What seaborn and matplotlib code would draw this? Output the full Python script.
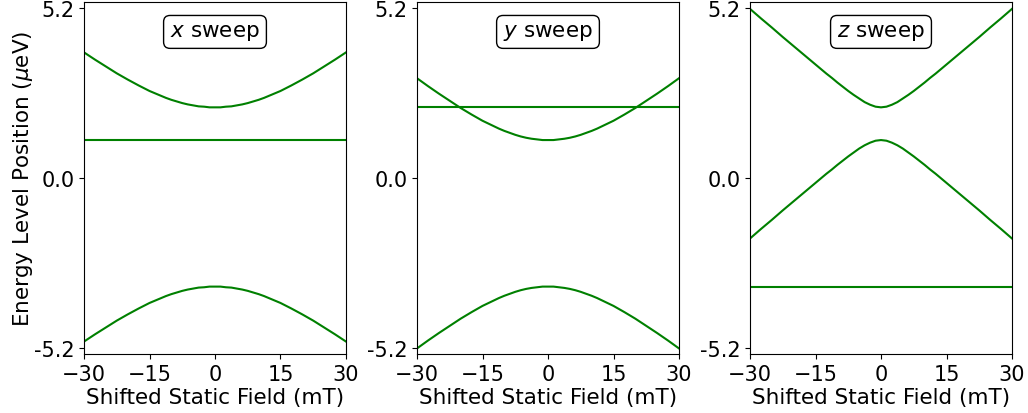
import matplotlib
matplotlib.use("Agg")
import matplotlib.pyplot as plt
import seaborn as sns
import pandas as pd

# Shifted static field (mT)
field = [-30, -27.5, -25, -22.5, -20, -17.5, -15, -12.5, -11.25, -10, -8.75, -7.5,
         -6.25, -5, -3.75, -2.5, -1.25, 0, 1.25, 2.5, 3.75, 5, 6.25, 7.5, 8.75, 10,
         11.25, 12.5, 15, 17.5, 20, 22.5, 25, 27.5, 30]

# x sweep levels (ueV)
x_upper = [3.84, 3.62, 3.41, 3.20, 3.01, 2.83, 2.66, 2.52, 2.45, 2.39, 2.34, 2.29,
           2.25, 2.22, 2.19, 2.18, 2.16, 2.16, 2.16, 2.18, 2.19, 2.22, 2.25, 2.29,
           2.34, 2.39, 2.45, 2.52, 2.66, 2.83, 3.01, 3.20, 3.41, 3.62, 3.84]
x_flat = [1.16] * 35
x_lower = [-5.00, -4.78, -4.57, -4.36, -4.17, -3.99, -3.82, -3.68, -3.61, -3.55, -3.50, -3.45,
           -3.41, -3.38, -3.35, -3.34, -3.32, -3.32, -3.32, -3.34, -3.35, -3.38, -3.41, -3.45,
           -3.50, -3.55, -3.61, -3.68, -3.82, -3.99, -4.17, -4.36, -4.57, -4.78, -5.00]

# y sweep levels (ueV)
y_upper = [3.05, 2.81, 2.58, 2.36, 2.14, 1.94, 1.75, 1.59, 1.51, 1.44, 1.38, 1.32,
           1.27, 1.23, 1.20, 1.18, 1.16, 1.16, 1.16, 1.18, 1.20, 1.23, 1.27, 1.32,
           1.38, 1.44, 1.51, 1.59, 1.75, 1.94, 2.14, 2.36, 2.58, 2.81, 3.05]
y_flat = [2.16] * 35
y_lower = [-5.21, -4.97, -4.74, -4.52, -4.30, -4.10, -3.91, -3.75, -3.67, -3.60, -3.54, -3.48,
           -3.43, -3.39, -3.36, -3.34, -3.32, -3.32, -3.32, -3.34, -3.36, -3.39, -3.43, -3.48,
           -3.54, -3.60, -3.67, -3.75, -3.91, -4.10, -4.30, -4.52, -4.74, -4.97, -5.21]

# z sweep levels (ueV)
z_upper = [5.17, 4.88, 4.60, 4.31, 4.03, 3.75, 3.47, 3.19, 3.06, 2.92, 2.79, 2.66,
           2.54, 2.43, 2.32, 2.24, 2.18, 2.16, 2.18, 2.24, 2.32, 2.43, 2.54, 2.66,
           2.79, 2.92, 3.06, 3.19, 3.47, 3.75, 4.03, 4.31, 4.60, 4.88, 5.17]
z_middle = [-1.85, -1.56, -1.28, -0.99, -0.71, -0.43, -0.15, 0.13, 0.26, 0.40, 0.53, 0.66,
            0.78, 0.90, 1.00, 1.08, 1.14, 1.16, 1.14, 1.08, 1.00, 0.90, 0.78, 0.66,
            0.53, 0.40, 0.26, 0.13, -0.15, -0.43, -0.71, -0.99, -1.28, -1.56, -1.85]
z_flat = [-3.32] * 35

panel_titles = ["$x$ sweep", "$y$ sweep", "$z$ sweep"]
panel_series = [[x_upper, x_flat, x_lower],
                [y_upper, y_flat, y_lower],
                [z_upper, z_middle, z_flat]]

x_ticks = [-30, -15, 0, 15, 30]
y_ticks = [-5.2, 0.0, 5.2]
y_ticklabels = ["-5.2", "0.0", "5.2"]

FS = 15
LFS = 15.5

fig = plt.figure(figsize=(10.28, 4.14), dpi=100)
lefts = [84 / 1028, 417 / 1028, 750 / 1028]
width = 262 / 1028
bottom = 1 - 355 / 414
height = 352 / 414

for i, (title, series) in enumerate(zip(panel_titles, panel_series)):
    ax = fig.add_axes([lefts[i], bottom, width, height])
    for s in series:
        df = pd.DataFrame({"field": field, "energy": s})
        sns.lineplot(data=df, x="field", y="energy", ax=ax, color="green",
                     linewidth=1.5, sort=False)
    ax.set_xlim(-30, 30)
    ax.set_ylim(-5.38, 5.38)
    ax.set_xticks(x_ticks)
    ax.set_yticks(y_ticks)
    ax.set_yticklabels(y_ticklabels)
    ax.tick_params(labelsize=FS)
    ax.set_xlabel("Shifted Static Field (mT)", fontsize=LFS, labelpad=2.5)
    if i == 0:
        ax.set_ylabel("Energy Level Position ($\\mu$eV)", fontsize=LFS, labelpad=-1)
    else:
        ax.set_ylabel("")
    ax.text(0.5, 0.915, title, transform=ax.transAxes, ha="center", va="center",
            fontsize=LFS,
            bbox=dict(boxstyle="round,pad=0.3", facecolor="white", edgecolor="black"))

fig.savefig("out.png", dpi=100)
